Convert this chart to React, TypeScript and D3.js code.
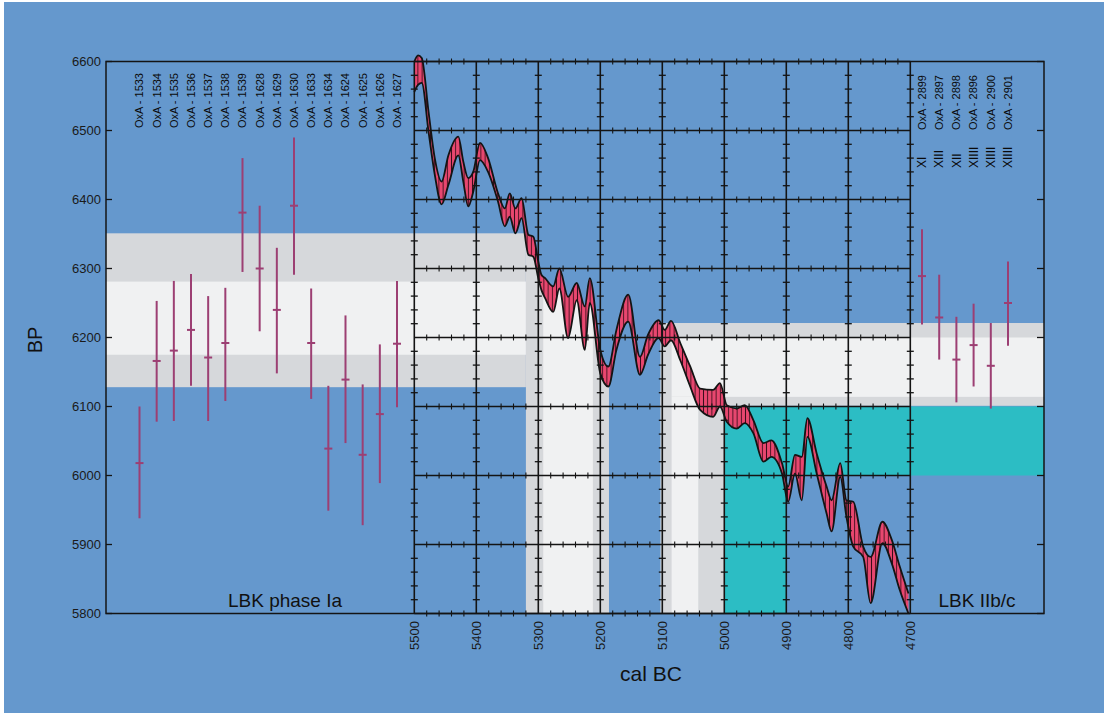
import React from 'react';
import * as d3 from 'd3';

const W = 1104;
const H = 713;

const bpTicks = [5800, 5900, 6000, 6100, 6200, 6300, 6400, 6500, 6600];
const calTicks = [5500, 5400, 5300, 5200, 5100, 5000, 4900, 4800, 4700];

// LBK phase Ia dates
const iaLabels = ['OxA - 1533', 'OxA - 1534', 'OxA - 1535', 'OxA - 1536', 'OxA - 1537', 'OxA - 1538', 'OxA - 1539', 'OxA - 1628', 'OxA - 1629', 'OxA - 1630', 'OxA - 1633', 'OxA - 1634', 'OxA - 1624', 'OxA - 1625', 'OxA - 1626', 'OxA - 1627'];
const iaBP = [6018, 6166, 6181, 6211, 6171, 6192, 6381, 6300, 6240, 6391, 6192, 6039, 6139, 6030, 6089, 6191];
const iaLow = [5938, 6078, 6079, 6130, 6079, 6108, 6295, 6209, 6148, 6291, 6111, 5949, 6047, 5928, 5989, 6099];
const iaHigh = [6100, 6253, 6282, 6292, 6260, 6272, 6460, 6391, 6330, 6490, 6271, 6130, 6232, 6132, 6190, 6282];

// LBK IIb/c dates
const lateLabels = ['OxA - 2899', 'OxA - 2897', 'OxA - 2898', 'OxA - 2896', 'OxA - 2900', 'OxA - 2901'];
const lateFeatures = ['XI', 'XIII', 'XII', 'XIIII', 'XIIII', 'XIIII'];
const lateBP = [6289, 6229, 6168, 6189, 6159, 6250];
const lateLow = [6219, 6168, 6106, 6129, 6097, 6188];
const lateHigh = [6357, 6291, 6230, 6249, 6221, 6310];

// calibration curve (cal BC, upper BP, lower BP)
const curveYears = [5500, 5494, 5488, 5477, 5467, 5456, 5445, 5429, 5421, 5413, 5405, 5394, 5381, 5365, 5354, 5346, 5337, 5327, 5316, 5308, 5300, 5295, 5289, 5276, 5266, 5252, 5238, 5225, 5217, 5200, 5187, 5174, 5155, 5136, 5123, 5106, 5096, 5086, 5071, 5055, 5039, 5018, 5007, 4996, 4980, 4967, 4953, 4937, 4924, 4907, 4897, 4886, 4875, 4866, 4851, 4835, 4827, 4813, 4803, 4792, 4776, 4764, 4745, 4730, 4717, 4703];
const curveUpper = [6600, 6609, 6605, 6527, 6460, 6426, 6464, 6491, 6455, 6431, 6440, 6482, 6460, 6409, 6387, 6409, 6387, 6402, 6349, 6346, 6310, 6291, 6286, 6274, 6300, 6259, 6279, 6245, 6286, 6182, 6158, 6211, 6262, 6172, 6204, 6225, 6211, 6224, 6192, 6158, 6126, 6124, 6134, 6102, 6097, 6102, 6080, 6047, 6051, 6018, 5984, 6030, 6027, 6083, 6032, 5984, 5964, 6018, 5964, 5962, 5897, 5882, 5933, 5907, 5868, 5829];
const curveLower = [6556, 6566, 6569, 6498, 6436, 6393, 6421, 6464, 6426, 6390, 6411, 6457, 6440, 6397, 6361, 6375, 6351, 6373, 6320, 6317, 6286, 6269, 6257, 6237, 6271, 6199, 6254, 6182, 6250, 6148, 6129, 6182, 6223, 6146, 6175, 6199, 6187, 6196, 6167, 6129, 6095, 6085, 6100, 6078, 6068, 6076, 6061, 6020, 6027, 6003, 5962, 6003, 5964, 6056, 6003, 5945, 5919, 5998, 5940, 5897, 5882, 5815, 5902, 5873, 5834, 5800];

// projection bands (BP ranges, cal BC ranges)
const iaBand2 = [6128, 6351];
const iaBand1 = [6175, 6281];
const iaCal2 = [5320, 5186];
const iaCal1 = [5292, 5212];
const lateBand2 = [6101, 6221];
const lateBand1 = [6114, 6200];
const lateCal2 = [5103, 5000];
const lateCal1 = [5085, 5042];
const tealBP = [6000, 6100];
const tealCal = [5000, 4900];

const FONT = '"Liberation Sans", Arial, Helvetica, sans-serif';
const BLUE = '#6598cd';
const GREY = '#d6d8db';
const LIGHT = '#f0f1f2';
const TEAL = '#2cbdc4';
const PINK = '#e8476f';
const BAR = '#9c3f73';
const INK = '#141414';

export default function App() {
  const L0 = 106;
  const R1 = 1044;
  const T = 61.5;
  const B = 613.5;

  const x = d3.scaleLinear().domain([5500, 4700]).range([414.3, 910.3]);
  const y = d3.scaleLinear().domain([5800, 6600]).range([B, T]);
  const M0 = x(5500);
  const M1 = x(4700);

  const xIa = d3.scalePoint<string>().domain(iaLabels).range([139.5, 397]);
  const xLate = d3.scalePoint<string>().domain(lateLabels).range([922, 1008]);

  const idx = d3.range(curveYears.length);
  const area = d3
    .area<number>()
    .x((i) => x(curveYears[i]))
    .y0((i) => y(curveLower[i]))
    .y1((i) => y(curveUpper[i]))
    .curve(d3.curveMonotoneX);
  const below = d3
    .area<number>()
    .x((i) => x(curveYears[i]))
    .y0(() => B)
    .y1((i) => y(curveUpper[i]))
    .curve(d3.curveMonotoneX);
  const upperLine = d3
    .line<number>()
    .x((i) => x(curveYears[i]))
    .y((i) => y(curveUpper[i]))
    .curve(d3.curveMonotoneX);
  const lowerLine = d3
    .line<number>()
    .x((i) => x(curveYears[i]))
    .y((i) => y(curveLower[i]))
    .curve(d3.curveMonotoneX);

  const rectY = (r: number[]) => ({ y: y(r[1]), height: y(r[0]) - y(r[1]) });

  const minorBP = d3.range(5800, 6601, 20).filter((v) => v % 100 !== 0);
  const minorYr = d3.range(4700, 5501, 20).filter((v) => v % 100 !== 0);

  return (
    <svg
      width={W}
      height={H}
      style={{ position: 'absolute', left: 0, top: 0, display: 'block' }}
      fontFamily={FONT}
    >
      <defs>
        <pattern id="hatch" width={4.2} height={10} patternUnits="userSpaceOnUse">
          <rect width={4.2} height={10} fill={PINK} />
          <line x1={2.1} y1={0} x2={2.1} y2={10} stroke="#3a0d1a" strokeWidth={0.9} />
        </pattern>
        <clipPath id="belowCurve">
          <path d={below(idx) || ''} />
        </clipPath>
      </defs>

      <rect x={0} y={0} width={W} height={H} fill="#ffffff" />
      <rect x={4} y={2} width={W - 4} height={H - 2} fill={BLUE} />

      {/* phase Ia projection */}
      <rect x={L0} width={x(iaCal2[0]) - L0} {...rectY(iaBand2)} fill={GREY} />
      <rect x={L0} width={x(iaCal2[0]) - L0} {...rectY(iaBand1)} fill={LIGHT} />
      <g clipPath="url(#belowCurve)">
        <rect x={x(iaCal2[0])} width={x(iaCal2[1]) - x(iaCal2[0])} y={y(iaBand2[1])} height={B - y(iaBand2[1])} fill={GREY} />
        <rect x={x(iaCal1[0])} width={x(iaCal1[1]) - x(iaCal1[0])} y={y(iaBand2[1])} height={B - y(iaBand2[1])} fill={LIGHT} />
      </g>

      {/* IIb/c projection */}
      <rect x={x(lateCal2[0])} width={R1 - x(lateCal2[0])} {...rectY(lateBand2)} fill={GREY} />
      <rect x={x(lateCal1[0])} width={R1 - x(lateCal1[0])} {...rectY(lateBand1)} fill={LIGHT} />
      <g clipPath="url(#belowCurve)">
        <rect x={x(lateCal2[0])} width={x(lateCal2[1]) - x(lateCal2[0])} y={y(lateBand1[0])} height={B - y(lateBand1[0])} fill={GREY} />
        <rect x={x(lateCal1[0])} width={x(lateCal1[1]) - x(lateCal1[0])} y={y(lateBand1[0])} height={B - y(lateBand1[0])} fill={LIGHT} />
      </g>
      <rect x={x(tealCal[0])} width={R1 - x(tealCal[0])} {...rectY(tealBP)} fill={TEAL} />
      <rect x={x(tealCal[0])} width={x(tealCal[1]) - x(tealCal[0])} y={y(tealBP[1])} height={B - y(tealBP[1])} fill={TEAL} />

      {/* calibration curve */}
      <path d={area(idx) || ''} fill="url(#hatch)" />
      <path d={upperLine(idx) || ''} fill="none" stroke={INK} strokeWidth={1.8} strokeLinejoin="round" />
      <path d={lowerLine(idx) || ''} fill="none" stroke={INK} strokeWidth={1.8} strokeLinejoin="round" />

      {/* grid */}
      <g stroke={INK}>
        {bpTicks.map((b) => (
          <line key={'h' + b} x1={M0} x2={M1} y1={y(b)} y2={y(b)} strokeWidth={1.6} />
        ))}
        {calTicks.map((c) => (
          <line key={'v' + c} x1={x(c)} x2={x(c)} y1={T} y2={B} strokeWidth={1.6} />
        ))}
        {calTicks.map((c) =>
          minorBP.map((b) => (
            <line key={'mv' + c + '-' + b} x1={x(c) - 3.5} x2={x(c) + 3.5} y1={y(b)} y2={y(b)} strokeWidth={1.3} />
          ))
        )}
        {bpTicks.map((b) =>
          minorYr.map((c) => (
            <line key={'mh' + b + '-' + c} x1={x(c)} x2={x(c)} y1={y(b) - 3} y2={y(b) + 3} strokeWidth={1.1} />
          ))
        )}
        {bpTicks.map((b) => (
          <line key={'la' + b} x1={L0} x2={L0 + 6} y1={y(b)} y2={y(b)} strokeWidth={1.3} />
        ))}
        {bpTicks.map((b) => (
          <line key={'ra' + b} x1={R1} x2={R1 - 7} y1={y(b)} y2={y(b)} strokeWidth={1.3} />
        ))}
      </g>
      <rect x={L0} y={T} width={R1 - L0} height={B - T} fill="none" stroke={INK} strokeWidth={1.5} />

      {/* error bars */}
      <g stroke={BAR} strokeWidth={2}>
        {iaLabels.map((l, i) => {
          const cx = xIa(l) as number;
          return (
            <g key={l}>
              <line x1={cx} x2={cx} y1={y(iaHigh[i])} y2={y(iaLow[i])} />
              <line x1={cx - 4} x2={cx + 4} y1={y(iaBP[i])} y2={y(iaBP[i])} />
            </g>
          );
        })}
        {lateLabels.map((l, i) => {
          const cx = xLate(l) as number;
          return (
            <g key={l}>
              <line x1={cx} x2={cx} y1={y(lateHigh[i])} y2={y(lateLow[i])} />
              <line x1={cx - 4} x2={cx + 4} y1={y(lateBP[i])} y2={y(lateBP[i])} />
            </g>
          );
        })}
      </g>

      {/* sample labels */}
      <g fontSize={11} fill="#0a0a0a">
        {iaLabels.map((l) => (
          <text key={l} transform={`translate(${xIa(l)},73) rotate(-90)`} textAnchor="end" dy="0.35em">
            {l}
          </text>
        ))}
        {lateLabels.map((l) => (
          <text key={l} transform={`translate(${xLate(l)},75) rotate(-90)`} textAnchor="end" dy="0.35em">
            {l}
          </text>
        ))}
        {lateLabels.map((l, i) => (
          <text key={l + 'f'} transform={`translate(${xLate(l)},168) rotate(-90)`} textAnchor="start" dy="0.35em" fontSize={12}>
            {lateFeatures[i]}
          </text>
        ))}
      </g>

      {/* axis tick labels */}
      <g fontSize={13} fill="#1a1a1a">
        {bpTicks.map((b) => (
          <text key={'yl' + b} x={101} y={y(b)} textAnchor="end" dy="0.35em">
            {b}
          </text>
        ))}
        {calTicks.map((c) => (
          <text key={'xl' + c} transform={`translate(${x(c)},621) rotate(-90)`} textAnchor="end" dy="0.35em">
            {c}
          </text>
        ))}
      </g>

      <text transform="translate(42,340) rotate(-90)" textAnchor="middle" fontSize={20} fill="#111">
        BP
      </text>
      <text x={651} y={681} textAnchor="middle" fontSize={21} fill="#111">
        cal BC
      </text>
      <text x={285} y={607} textAnchor="middle" fontSize={19} fill="#111">
        LBK phase Ia
      </text>
      <text x={977} y={607} textAnchor="middle" fontSize={19} fill="#111">
        LBK IIb/c
      </text>
    </svg>
  );
}
